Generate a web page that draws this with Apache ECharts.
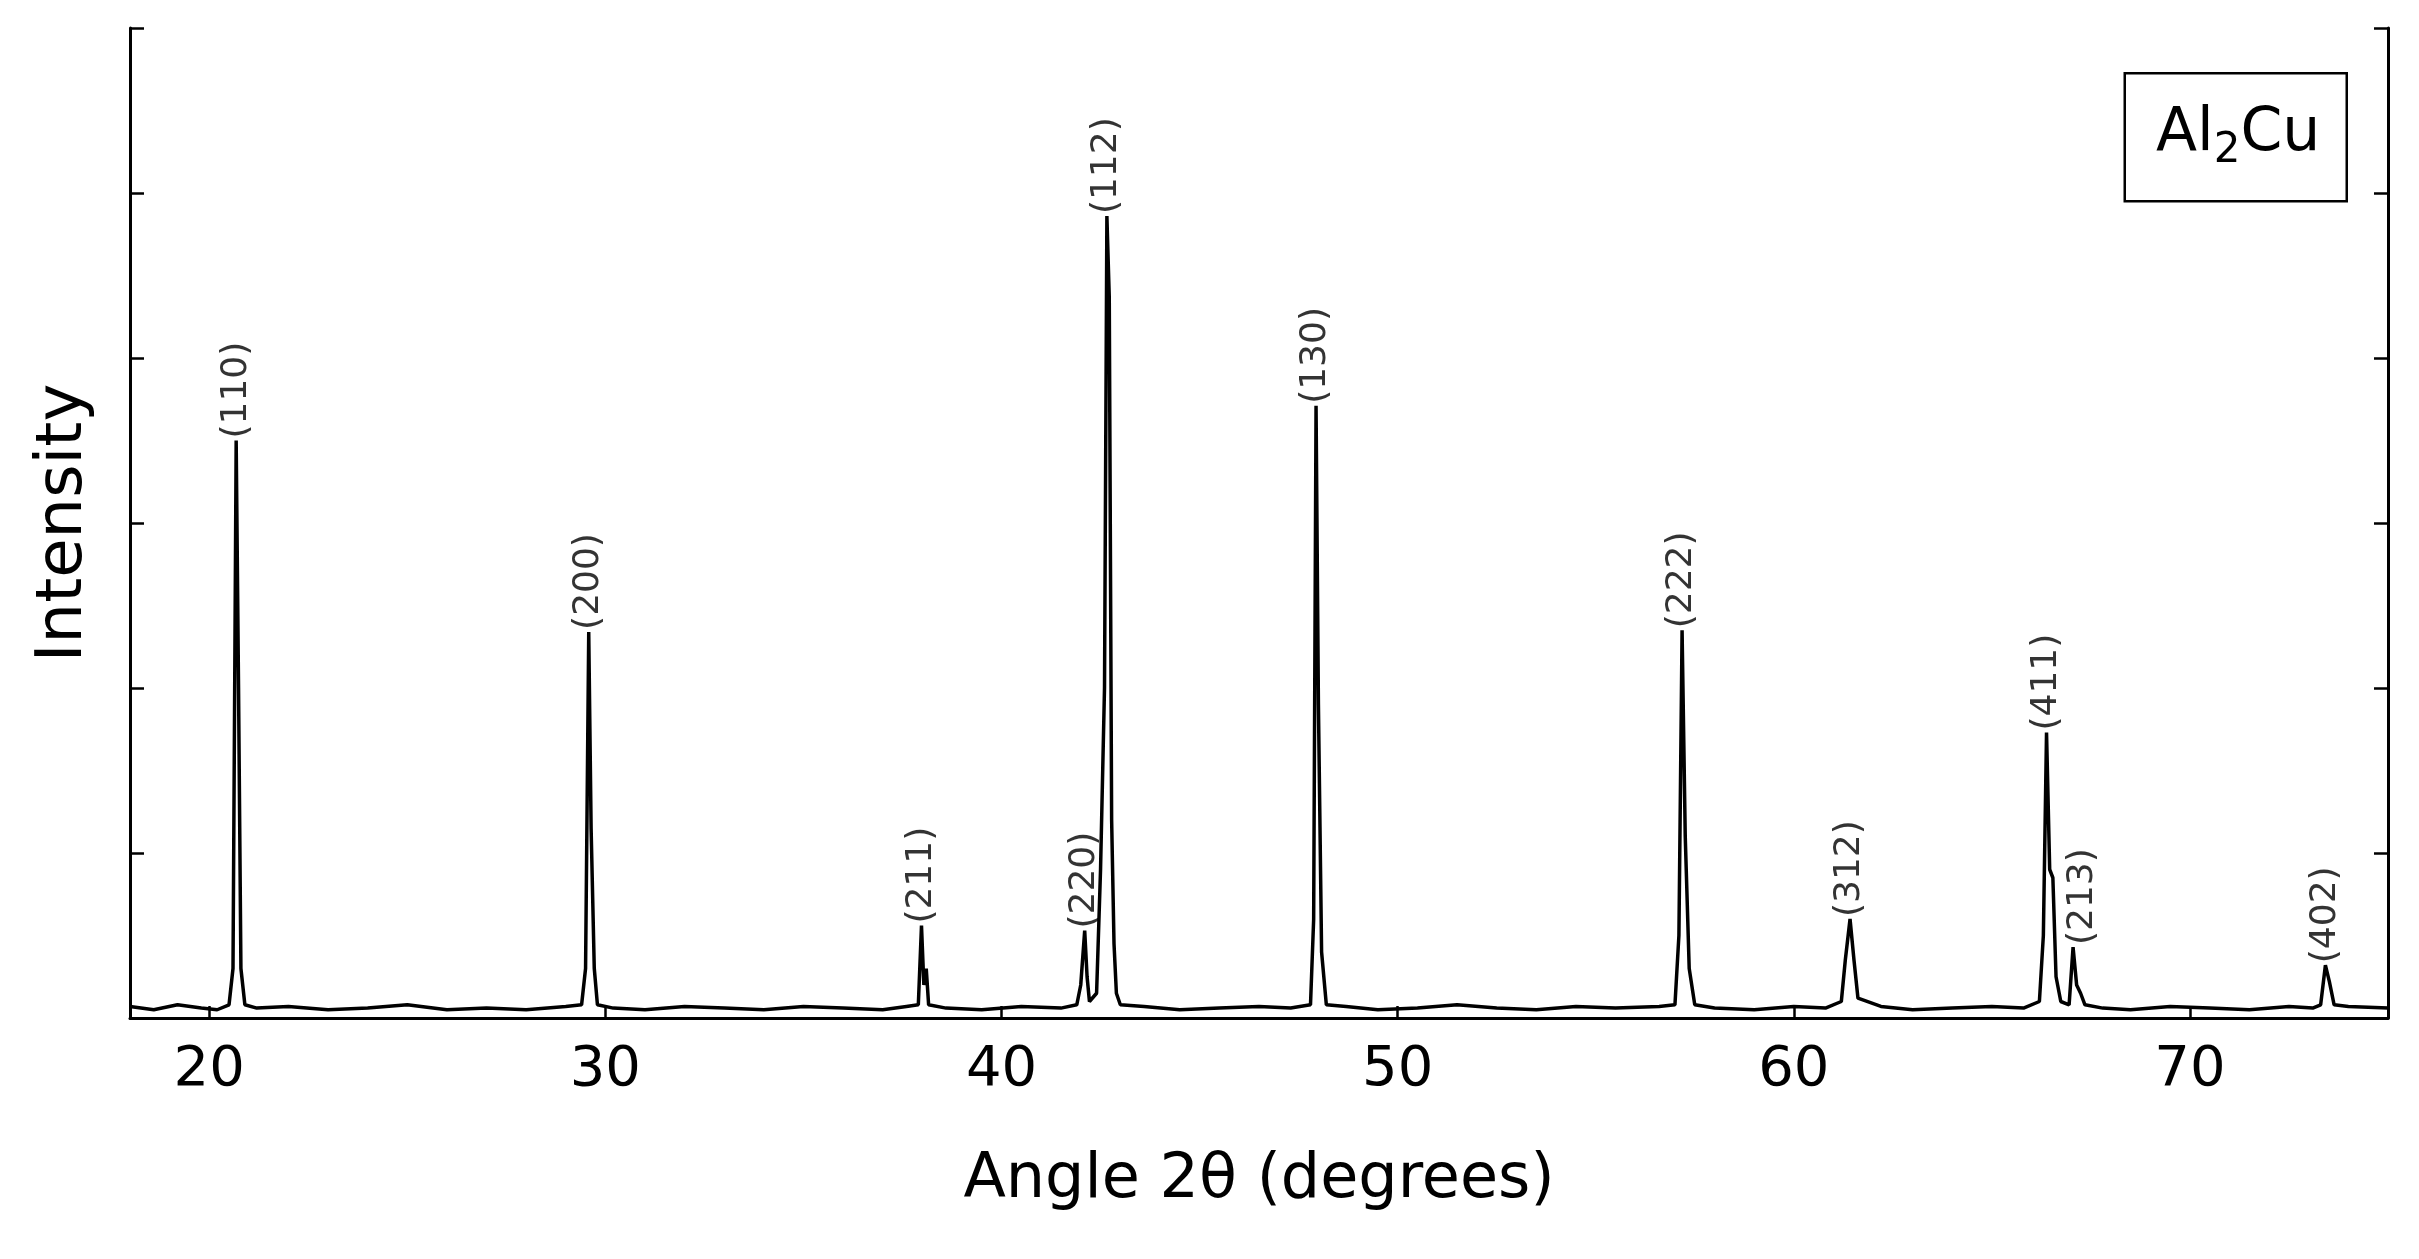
<!DOCTYPE html>
<html>
<head>
<meta charset="utf-8">
<script src="https://cdn.jsdelivr.net/npm/echarts@6/dist/echarts.min.js"></script>
<style>html,body{margin:0;padding:0;background:#fff}#chart{width:2419px;height:1259px}</style>
</head>
<body>
<div id="chart"></div>
<script>
// background signal
const baseline = [
  [18, 0.07], [18.6, 0.05], [19.2, 0.08], [19.8, 0.06], [20.2, 0.05],
  [21.2, 0.06], [22, 0.07], [23, 0.05], [24, 0.06], [25, 0.08], [26, 0.05],
  [27, 0.06], [28, 0.05], [29, 0.07], [30.2, 0.06], [31, 0.05], [32, 0.07],
  [33, 0.06], [34, 0.05], [35, 0.07], [36, 0.06], [37, 0.05], [37.6, 0.07],
  [38.6, 0.06], [39.5, 0.05], [40.5, 0.07], [41.5, 0.06], [43.6, 0.07],
  [44.5, 0.05], [45.5, 0.06], [46.5, 0.07], [47.3, 0.06], [48.7, 0.07],
  [49.5, 0.05], [50.5, 0.06], [51.5, 0.08], [52.5, 0.06], [53.5, 0.05],
  [54.5, 0.07], [55.5, 0.06], [56.6, 0.07], [58, 0.06], [59, 0.05],
  [60, 0.07], [60.8, 0.06], [62.2, 0.07], [63, 0.05], [64, 0.06], [65, 0.07],
  [65.8, 0.06], [67.8, 0.06], [68.5, 0.05], [69.5, 0.07], [70.5, 0.06],
  [71.5, 0.05], [72.5, 0.07], [73.1, 0.06], [74, 0.07], [75, 0.06]
];
// peak profiles
const peaks = [
  [20.5, 0.08], [20.6, 0.3], [20.68, 3.5], [20.74, 2.0], [20.8, 0.3], [20.9, 0.08],
  [29.4, 0.08], [29.5, 0.3], [29.58, 2.34], [29.64, 1.15], [29.72, 0.3], [29.8, 0.08],
  [37.9, 0.08], [37.98, 0.56], [38.04, 0.2], [38.1, 0.3], [38.16, 0.08],
  [41.9, 0.08], [42.0, 0.2], [42.1, 0.53], [42.16, 0.25], [42.22, 0.1],
  [42.4, 0.15], [42.5, 0.9], [42.6, 2.0], [42.66, 4.86], [42.72, 4.37],
  [42.78, 1.2], [42.84, 0.45], [42.9, 0.15], [43.0, 0.08],
  [47.8, 0.08], [47.88, 0.6], [47.94, 3.71], [48.0, 1.9], [48.08, 0.4], [48.2, 0.08],
  [57.0, 0.08], [57.1, 0.5], [57.18, 2.35], [57.26, 1.1], [57.36, 0.3], [57.5, 0.08],
  [61.2, 0.1], [61.3, 0.35], [61.42, 0.6], [61.52, 0.35], [61.62, 0.12],
  [66.2, 0.1], [66.3, 0.5], [66.38, 1.73], [66.46, 0.9], [66.54, 0.85], [66.62, 0.25], [66.74, 0.1],
  [66.95, 0.08], [67.05, 0.43], [67.14, 0.2], [67.24, 0.15], [67.35, 0.08],
  [73.3, 0.08], [73.42, 0.32], [73.52, 0.22], [73.64, 0.08]
];
const hklLabels = ['(110)', '(200)', '(211)', '(220)', '(112)', '(130)', '(222)', '(312)', '(411)', '(213)', '(402)'];
const hklPos = [[20.68, 3.5], [29.58, 2.34], [37.98, 0.56], [42.1, 0.53], [42.66, 4.86],
  [47.94, 3.71], [57.18, 2.35], [61.42, 0.6], [66.38, 1.73], [67.3, 0.43], [73.42, 0.32]];
const xTicks = [20, 30, 40, 50, 60, 70];

const pattern = baseline.concat(peaks).sort((a, b) => a[0] - b[0]);
const font = 'DejaVu Sans';
const chart = echarts.init(document.getElementById('chart'));
chart.setOption({
  animation: false,
  grid: { left: 130, right: 31, top: 28, bottom: 241 },
  xAxis: {
    type: 'value', min: 18, max: 75,
    axisLine: { lineStyle: { color: '#000', width: 3 } },
    axisTick: { inside: true, length: 12, customValues: xTicks, lineStyle: { color: '#000', width: 2.5 } },
    axisLabel: { color: '#000', fontSize: 56, fontFamily: font, margin: 24, customValues: xTicks },
    splitLine: { show: false },
    name: 'Angle 2θ (degrees)', nameLocation: 'middle', nameGap: 132,
    nameTextStyle: { color: '#000', fontSize: 62, fontFamily: font }
  },
  yAxis: [{
    type: 'value', min: 0, max: 6, interval: 1,
    axisLine: { show: true, lineStyle: { color: '#000', width: 3 } },
    axisTick: { show: true, inside: true, length: 14, lineStyle: { color: '#000', width: 2.5 } },
    axisLabel: { show: false }, splitLine: { show: false },
    name: 'Intensity', nameLocation: 'middle', nameGap: 34,
    nameTextStyle: { color: '#000', fontSize: 64, fontFamily: font }
  }, {
    type: 'value', min: 0, max: 6, interval: 1, position: 'right',
    axisLine: { show: true, lineStyle: { color: '#000', width: 3 } },
    axisTick: { show: true, inside: true, length: 14, lineStyle: { color: '#000', width: 2.5 } },
    axisLabel: { show: false }, splitLine: { show: false }
  }],
  graphic: [{
    type: 'rect', right: 71, top: 72,
    shape: { width: 222, height: 128 },
    style: { fill: '#fff', stroke: '#000', lineWidth: 2.5 }
  }, {
    type: 'text', left: 2156, top: 104,
    style: {
      text: '{a|Al}{s|2}{a|Cu}',
      rich: {
        a: { fontSize: 60, fontFamily: font, fill: '#000' },
        s: { fontSize: 42, fontFamily: font, fill: '#000', verticalAlign: 'bottom', padding: [34, 0, 0, 0] }
      }
    }
  }],
  series: [{
    type: 'line', data: pattern, symbol: 'none',
    lineStyle: { color: '#000', width: 3.5 }
  }, {
    type: 'scatter', symbolSize: 0,
    data: hklPos.map((p, i) => ({ value: p, name: hklLabels[i] })),
    label: {
      show: true, position: 'top', rotate: 90, align: 'left', verticalAlign: 'middle',
      distance: 2, formatter: p => p.name,
      fontSize: 36, fontFamily: font, color: '#000'
    }
  }]
});
</script>
</body>
</html>
